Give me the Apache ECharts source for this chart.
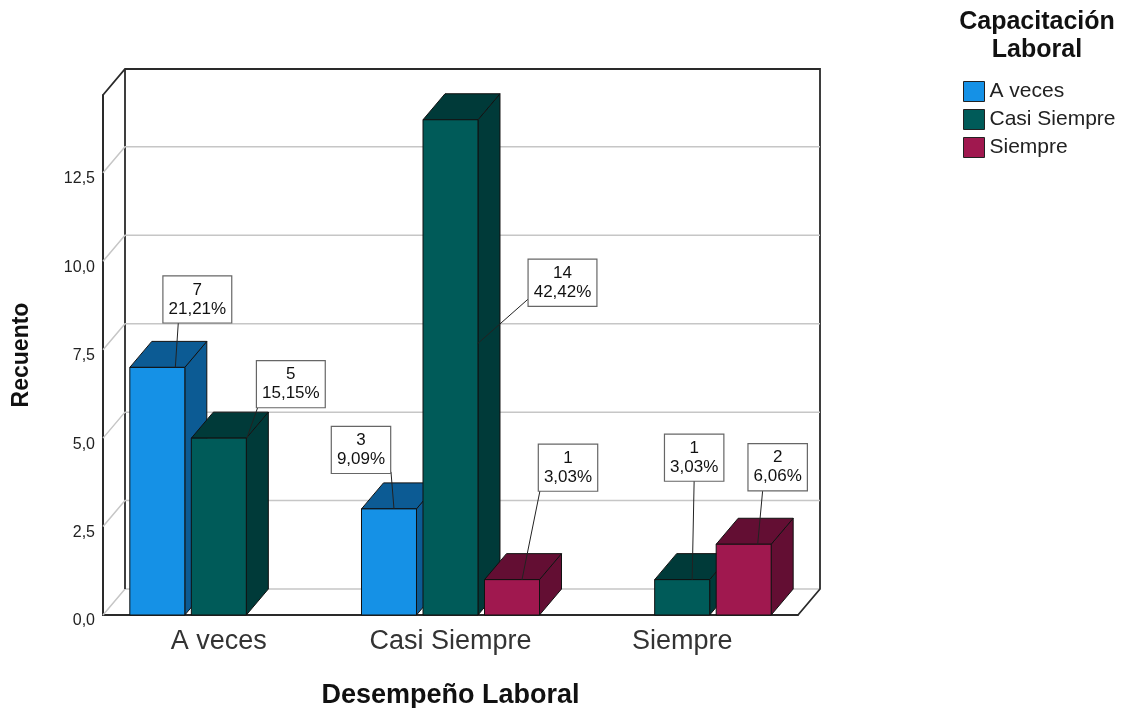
<!DOCTYPE html>
<html lang="es">
<head>
<meta charset="UTF-8">
<title>Desempeño Laboral</title>
<script src="https://cdn.jsdelivr.net/npm/echarts@6/dist/echarts.min.js"></script>
<style>
  html, body { margin: 0; padding: 0; background: #fff; }
  #chart { width: 1132px; height: 708px; }
</style>
</head>
<body>
<div id="chart"></div>
<script>
// datos
var categories = ['A veces', 'Casi Siempre', 'Siempre'];
var seriesNames = ['A veces', 'Casi Siempre', 'Siempre'];
var aVeces = [7, 3, 0];
var casiSiempre = [5, 14, 1];
var siempre = [0, 1, 2];
var yTicks = [0, 2.5, 5, 7.5, 10, 12.5];

var FONT = 'Liberation Sans, Arial, sans-serif';
var DX = 22, DY = -26;   // profundidad 3D
var total = aVeces.concat(casiSiempre, siempre).reduce(function (a, b) { return a + b; }, 0);

// colores: frente / caras oscuras
var colors = {
    'A veces': ['#1591e6', '#0c5b94'],
    'Casi Siempre': ['#005b59', '#003a39'],
    'Siempre': ['#a0184f', '#630e33']
};
var slotOf = { 'A veces': -1, 'Casi Siempre': 0, 'Siempre': 1 };

// posicion de las etiquetas: [cajaDx, cajaDy, inicioDx, inicioDy, finDx, finDy]
var labelPos = {
    'A veces': [[40, -68, -19, 23, 18, 0], [-28, -59, 30, 22, 5, 0], null],
    'Casi Siempre': [[72, -54, -33, 23, 28, 0], [112, 163, -34, 16, 27, 224], [12, -122, 0, 22, 10, 0]],
    'Siempre': [null, [56, -112, -28, 23, 10, 0], [34, -77, -15, 23, 14, 0]]
};

function fmt(n, d) {
    return n.toFixed(d).replace('.', ',');
}

function renderBar(params, api) {
    var idx = api.value(0), val = api.value(1);
    if (!val) return null;
    var name = params.seriesName;
    var base = api.coord([idx, 0]);
    var top = api.coord([idx, val]);
    var catW = api.size([1, 0])[0];
    var bw = catW * 0.2374;
    var cx = base[0] + slotOf[name] * catW * 0.2655;
    var x = cx - bw / 2, y0 = top[1], y1 = base[1];
    var c = colors[name];
    var stroke = { stroke: '#111', lineWidth: 1 };
    var children = [
        { type: 'polygon', shape: { points: [[x + bw, y0], [x + bw + DX, y0 + DY], [x + bw + DX, y1 + DY], [x + bw, y1]] },
          style: Object.assign({ fill: c[1] }, stroke) },
        { type: 'polygon', shape: { points: [[x, y0], [x + bw, y0], [x + bw + DX, y0 + DY], [x + DX, y0 + DY]] },
          style: Object.assign({ fill: c[1] }, stroke) },
        { type: 'rect', shape: { x: x, y: y0, width: bw, height: y1 - y0 },
          style: Object.assign({ fill: c[0] }, stroke) }
    ];
    var lp = labelPos[name][idx];
    if (lp) {
        var bx = cx + lp[0], by = y0 + lp[1];
        children.push({
            type: 'line', z2: 100,
            shape: { x1: bx + lp[2], y1: by + lp[3], x2: cx + lp[4], y2: y0 + lp[5] },
            style: { stroke: '#222', lineWidth: 1 }
        });
        children.push({
            type: 'text', z2: 101, x: bx, y: by,
            style: {
                text: val + '\n' + fmt(val / total * 100, 2) + '%',
                align: 'center', verticalAlign: 'middle',
                fontFamily: FONT, fontSize: 17, lineHeight: 19, fill: '#111',
                backgroundColor: '#fff', borderColor: '#666', borderWidth: 1.2,
                padding: [4, 5]
            }
        });
    }
    return { type: 'group', children: children };
}

function renderFrame(params, api) {
    var cs = params.coordSys;
    var v = api.value(1);
    var y = api.coord([0, v])[1];
    var grid = '#c6c6c6';
    var children = [
        { type: 'polyline', shape: { points: [[cs.x, y], [cs.x + DX, y + DY], [cs.x + cs.width + DX, y + DY]] },
          style: { stroke: grid, lineWidth: 1.5, fill: null } }
    ];
    if (params.dataIndex === 0) {
        var L = cs.x, T = cs.y, R = cs.x + cs.width, B = cs.y + cs.height;
        var dark = { stroke: '#2a2a2a', lineWidth: 1.8, fill: null };
        children.push(
            { type: 'polyline', shape: { points: [[L, T], [L + DX, T + DY], [R + DX, T + DY], [R + DX, B + DY], [R, B]] }, style: dark },
            { type: 'line', shape: { x1: L + DX, y1: T + DY, x2: L + DX, y2: B + DY }, style: dark }
        );
    }
    return { type: 'group', children: children };
}

var chart = echarts.init(document.getElementById('chart'));

var barSeries = [aVeces, casiSiempre, siempre].map(function (vals, i) {
    return {
        name: seriesNames[i],
        type: 'custom',
        renderItem: renderBar,
        itemStyle: { color: colors[seriesNames[i]][0], borderColor: '#222', borderWidth: 1 },
        encode: { x: 0, y: 1 },
        data: vals.map(function (v, j) { return [j, v]; }),
        z: 3
    };
});

chart.setOption({
    animation: false,
    grid: { left: 103, top: 95, width: 695, height: 520, outerBoundsMode: 'none', containLabel: false },
    graphic: [{
        type: 'text', x: 1037, y: 8,
        style: {
            text: 'Capacitación\nLaboral', align: 'center', verticalAlign: 'top',
            fontFamily: FONT, fontWeight: 'bold', fontSize: 25, lineHeight: 28, fill: '#111'
        }
    }],
    legend: {
        data: seriesNames,
        orient: 'vertical',
        left: 963, top: 81,
        padding: 0,
        itemWidth: 21, itemHeight: 20, itemGap: 7,
        icon: 'rect',
        itemStyle: { borderColor: '#222', borderWidth: 1 },
        textStyle: { fontFamily: FONT, fontSize: 21, color: '#222', padding: [0, 0, 0, 0] }
    },
    xAxis: {
        type: 'category',
        data: categories,
        name: 'Desempeño Laboral',
        nameLocation: 'middle',
        nameGap: 67,
        nameTextStyle: { fontFamily: FONT, fontWeight: 'bold', fontSize: 27, color: '#111' },
        axisLine: { lineStyle: { color: '#2a2a2a', width: 2 } },
        axisTick: { show: false },
        axisLabel: { fontFamily: FONT, fontSize: 27, color: '#333', margin: 13 },
        splitLine: { show: false }
    },
    yAxis: {
        type: 'value',
        min: 0, max: 14.7, interval: 2.5,
        name: 'Recuento',
        nameLocation: 'middle',
        nameRotate: 90,
        nameGap: 70,
        nameTextStyle: { fontFamily: FONT, fontWeight: 'bold', fontSize: 23, color: '#111' },
        axisLine: { show: true, lineStyle: { color: '#2a2a2a', width: 2 } },
        axisTick: { show: false },
        splitLine: { show: false },
        axisLabel: {
            fontFamily: FONT, fontSize: 16, color: '#222', margin: 8,
            showMaxLabel: false, verticalAlign: 'top', lineHeight: 12,
            formatter: function (v) { return fmt(v, 1); }
        }
    },
    series: [{
        name: 'marco',
        type: 'custom',
        silent: true,
        z: 1,
        renderItem: renderFrame,
        encode: { x: 0, y: 1 },
        data: yTicks.map(function (v) { return [0, v]; })
    }].concat(barSeries)
});
</script>
</body>
</html>
